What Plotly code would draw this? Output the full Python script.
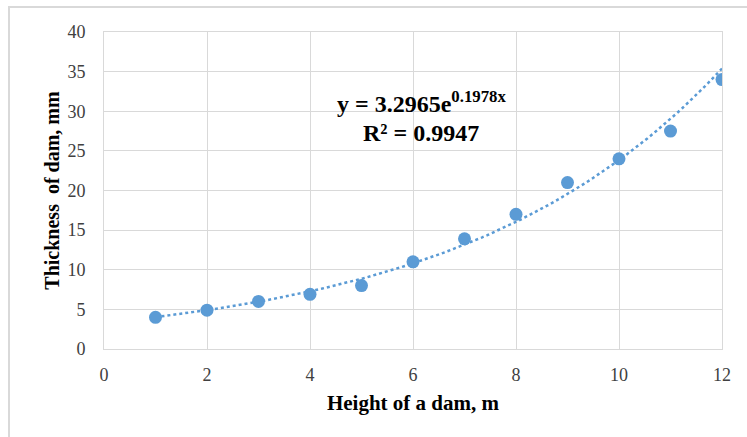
import numpy as np
import plotly.graph_objects as go

heights = [1, 2, 3, 4, 5, 6, 7, 8, 9, 10, 11, 12]
thickness = [4.0, 4.9, 6.0, 6.9, 8.0, 11.0, 13.9, 17.0, 21.0, 24.0, 27.5, 34.0]
coef_a = 3.2965
coef_b = 0.1978
r_squared = 0.9947

trend_x = np.linspace(min(heights), max(heights), 100)
trend_y = coef_a * np.exp(coef_b * trend_x)

blue = "#5B9BD5"
grid = "#d9d9d9"
font_family = "Liberation Serif"

fig = go.Figure()
fig.add_trace(go.Scatter(x=trend_x, y=trend_y, mode="lines",
                         line=dict(color=blue, width=2.5, dash="dot"),
                         hoverinfo="skip", showlegend=False))
fig.add_trace(go.Scatter(x=heights, y=thickness, mode="markers",
                         marker=dict(color=blue, size=13),
                         showlegend=False))

fig.add_annotation(x=0.513, y=0.832, xref="paper", yref="paper",
                   text=f"<b>y = {coef_a}e<sup>{coef_b}x</sup></b>",
                   showarrow=False, font=dict(family=font_family, size=24, color="#000"))
fig.add_annotation(x=0.513, y=0.728, xref="paper", yref="paper",
                   text=f"<b>R² = {r_squared}</b>",
                   showarrow=False, font=dict(family=font_family, size=24, color="#000"))

# outer chart border (partially visible)
fig.add_shape(type="rect", xref="paper", yref="paper",
              x0=-0.1537, x1=1.2, y0=-0.5, y1=1.0789,
              line=dict(color=grid, width=2), layer="below")

fig.update_layout(
    width=747, height=437,
    margin=dict(l=104, r=25, t=32, b=88),
    paper_bgcolor="white", plot_bgcolor="white",
    font=dict(family=font_family, size=18, color="#404040"),
    xaxis=dict(range=[0, 12], tickvals=list(range(0, 13, 2)),
               showgrid=True, gridcolor=grid, gridwidth=1,
               showline=True, linecolor=grid, linewidth=1, mirror=True,
               zeroline=False, ticks="", ticklen=0, ticklabelstandoff=9,
               tickfont=dict(family=font_family, size=18, color="#404040"),
               title=dict(text="<b>Height of a dam, m</b>",
                          font=dict(family=font_family, size=21, color="#000"),
                          standoff=11)),
    yaxis=dict(range=[0, 40], tickvals=list(range(0, 41, 5)),
               showgrid=True, gridcolor=grid, gridwidth=1,
               showline=True, linecolor=grid, linewidth=1, mirror=True,
               zeroline=False, ticks="", ticklen=0, ticklabelstandoff=14,
               tickfont=dict(family=font_family, size=18, color="#404040"),
               title=dict(text="<b>Thickness&nbsp; of dam, mm</b>",
                          font=dict(family=font_family, size=20, color="#000"),
                          standoff=2)),
)

fig.write_html("out.html")
